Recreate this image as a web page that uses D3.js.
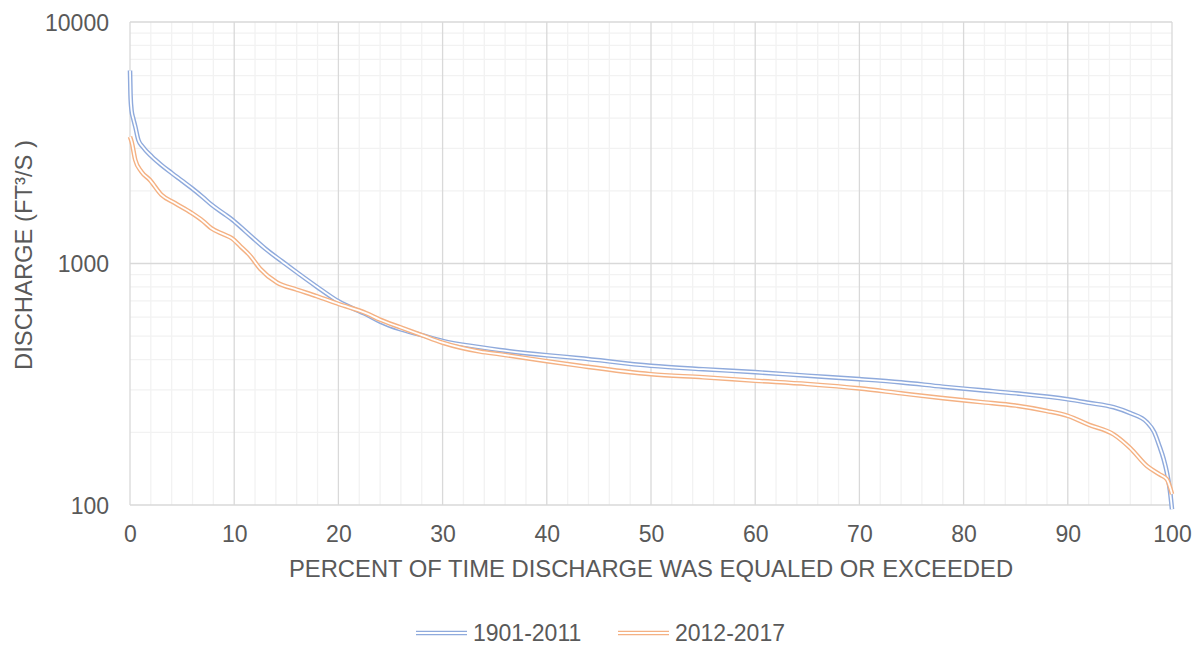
<!DOCTYPE html>
<meta charset="utf-8">
<style>
body { margin: 0; background: #fff; }
svg { font-family: "Liberation Sans", Arial, sans-serif; }
.grid-minor line { stroke: #f2f2f2; stroke-width: 1.3px; }
.grid-major line { stroke: #d9d9d9; stroke-width: 1.3px; }
.axis text { fill: #595959; font-size: 23px; }
.title { fill: #595959; font-size: 23.8px; }
</style>
<body>
<svg width="1197" height="647"></svg>
<script src="https://cdn.jsdelivr.net/npm/d3@7"></script>
<script>

// flow duration values (percent exceedance, discharge ft3/s)
var pct_1901 = [0, 0.05, 0.15, 0.3, 0.5, 0.8, 1.2, 2.1, 3, 4, 5, 5.9, 7, 7.8, 9, 9.8, 11, 11.8, 13, 14.6, 16, 17.9, 20, 22.7, 24, 25.9, 28, 30, 33.6, 35.5, 40, 43, 50, 55, 60, 65, 70, 74, 78, 81.6, 85, 90, 92, 94.4, 96, 97.6, 98.3, 98.8, 99.2, 99.5, 99.8, 100];
var q_1901   = [6300, 5000, 4300, 4000, 3700, 3250, 3050, 2770, 2560, 2370, 2200, 2056, 1880, 1754, 1610, 1520, 1370, 1276, 1150, 1020, 920, 803, 697, 615, 575, 535, 505, 478, 450, 438, 417, 406, 377, 365, 355, 343, 332, 322, 309, 299, 290, 274, 265, 254, 240, 220, 200, 175, 155, 137, 115, 96];

var pct_2012 = [0, 0.15, 0.5, 1.1, 1.9, 3, 4.3, 5.9, 7, 7.8, 9, 9.8, 10.6, 11.5, 12.5, 14.1, 16, 17.9, 20, 22.7, 24, 25.9, 28, 30, 33.6, 35.5, 40, 43.2, 50, 55, 60, 65, 70, 74, 78, 81.6, 85, 88, 90, 92, 94.4, 96, 97.6, 98.8, 99.5, 100];
var q_2012   = [3350, 3200, 2690, 2400, 2220, 1930, 1780, 1620, 1500, 1400, 1320, 1270, 1178, 1080, 950, 834, 780, 733, 680, 622, 585, 545, 505, 470, 432, 421, 394, 377, 348, 338, 327, 317, 304, 290, 277, 267, 258, 245, 234, 215, 196, 172, 145, 134, 128, 111];

var series_names = ["1901-2011", "2012-2017"];
var series_colours = ["#8faadc", "#f4b183"];
var x_ticks = d3.range(0, 101, 10);
var y_ticks = [100, 1000, 10000];

var svg = d3.select("svg");

var x = d3.scaleLinear().domain([0, 100]).range([130, 1172]);
var y = d3.scaleLog().domain([100, 10000]).range([505, 22]);

// minor gridlines
var minor_x = d3.range(0, 101, 2).filter(function(d){ return d % 10 != 0; });
var minor_y = [200,300,400,500,600,700,800,900,2000,3000,4000,5000,6000,7000,8000,9000];

var gminor = svg.append("g").attr("class", "grid-minor");
gminor.selectAll(".vx").data(minor_x).enter().append("line")
    .attr("x1", x).attr("x2", x).attr("y1", y(10000)).attr("y2", y(100));
gminor.selectAll(".hy").data(minor_y).enter().append("line")
    .attr("x1", x(0)).attr("x2", x(100)).attr("y1", y).attr("y2", y);

// major gridlines
var gmajor = svg.append("g").attr("class", "grid-major");
gmajor.selectAll(".vx").data(x_ticks).enter().append("line")
    .attr("x1", x).attr("x2", x).attr("y1", y(10000)).attr("y2", y(100));
gmajor.selectAll(".hy").data(y_ticks).enter().append("line")
    .attr("x1", x(0)).attr("x2", x(100)).attr("y1", y).attr("y2", y);

// axes (labels only)
var xaxis = svg.append("g").attr("class", "axis")
    .attr("transform", "translate(0," + y(100) + ")")
    .call(d3.axisBottom(x).tickValues(x_ticks).tickSize(0).tickFormat(d3.format("d")));
xaxis.select(".domain").remove();
xaxis.selectAll("text").attr("y", 37).attr("dy", 0);

var yaxis = svg.append("g").attr("class", "axis")
    .attr("transform", "translate(" + x(0) + ",0)")
    .call(d3.axisLeft(y).tickValues(y_ticks).tickSize(0).tickPadding(21).tickFormat(d3.format("d")));
yaxis.select(".domain").remove();
yaxis.selectAll("text").attr("dy", "0.35em");
svg.selectAll(".axis text").attr("font-family", null).attr("font-size", null);

// axis titles
svg.append("text").attr("class", "title")
    .attr("x", (x(0) + x(100)) / 2).attr("y", 577)
    .attr("text-anchor", "middle")
    .text("PERCENT OF TIME DISCHARGE WAS EQUALED OR EXCEEDED");

svg.append("text").attr("class", "title")
    .attr("transform", "translate(32,255) rotate(-90)")
    .attr("text-anchor", "middle")
    .text("DISCHARGE (FT³/S )");

// double lines
var line = d3.line()
    .x(function(d){ return x(d[0]); })
    .y(function(d){ return y(d[1]); })
    .curve(d3.curveMonotoneX);

var all_series = [
    d3.zip(pct_1901, q_1901),
    d3.zip(pct_2012, q_2012)
];

all_series.forEach(function(s, i){
    var gs = svg.append("g").attr("class", "series");
    gs.append("path").datum(s).attr("d", line)
        .attr("fill", "none").attr("stroke", series_colours[i]).attr("stroke-width", 4.6);
    gs.append("path").datum(s).attr("d", line)
        .attr("fill", "none").attr("stroke", "#fff").attr("stroke-width", 1.8);
});

// legend
var legend_x = [416, 618];
series_names.forEach(function(name, i){
    var lg = svg.append("g").attr("transform", "translate(" + legend_x[i] + ",633)");
    lg.append("line").attr("x1", 0).attr("x2", 51).attr("y1", 0).attr("y2", 0)
        .attr("stroke", series_colours[i]).attr("stroke-width", 4.6);
    lg.append("line").attr("x1", 0).attr("x2", 51).attr("y1", 0).attr("y2", 0)
        .attr("stroke", "#fff").attr("stroke-width", 1.8);
    lg.append("text").attr("class", "title").attr("x", 57).attr("y", 8)
        .style("font-size", "23px")
        .text(name);
});

</script>
</body>
